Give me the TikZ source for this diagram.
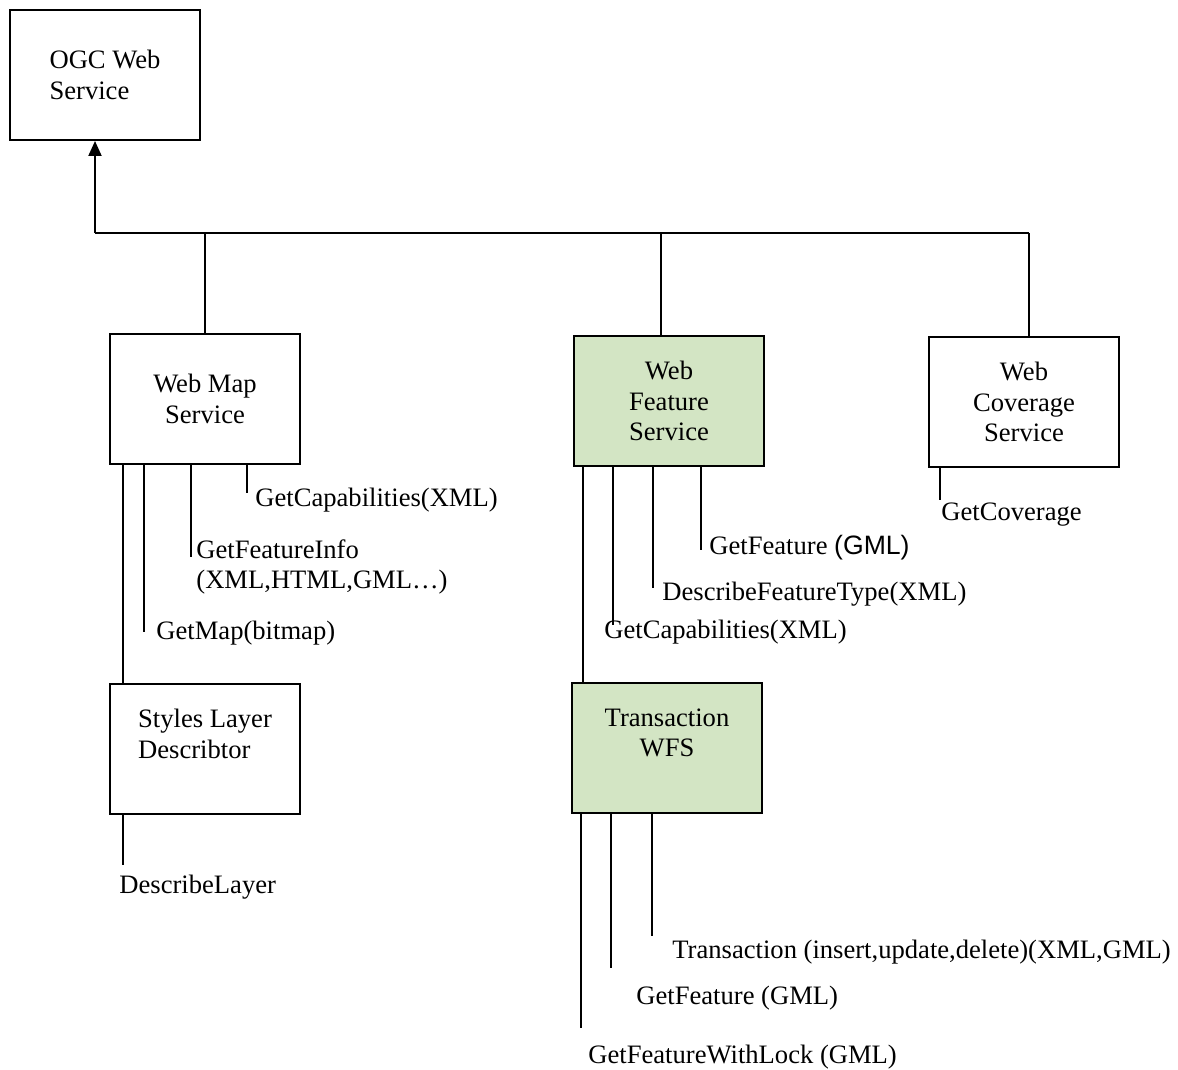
\documentclass[tikz,border=0pt]{standalone}
\usepackage{fontspec}
\setmainfont{Liberation Serif}
\newfontfamily\arialfont{Liberation Sans}
\usetikzlibrary{arrows.meta}
\definecolor{wfsgreen}{RGB}{211,229,196}

\begin{document}
\begin{tikzpicture}[x=0.5pt, y=-0.5pt,
    font=\fontsize{13.3}{15.25}\selectfont,
    box/.style={draw, line width=1pt, minimum width=95pt, minimum height=65pt, inner sep=2pt},
    green box/.style={box, fill=wfsgreen},
    op/.style={anchor=west, inner sep=0pt, align=left},
    wire/.style={line width=1pt},
    thin wire/.style={line width=0.7pt}]
    \useasboundingbox (0,0) rectangle (1178,1070);

    \path (105, 75) node [box, align=left] (ogc) {OGC Web\\Service};
    \path (205, 399) node [box, align=center] (wms) {Web Map\\Service};
    \path (669, 401) node [green box, align=center] (wfs) {Web\\Feature\\Service};
    \path (1024, 402) node [box, align=center] (wcs) {Web\\Coverage\\Service};
    \path (205, 749) node [box, align=left] (sld) {Styles Layer\\Describtor\\\mbox{}};
    \path (667, 748) node [green box, align=center] (wfst) {Transaction\\WFS\\\mbox{}};

    % the common bus up to OGC
    \coordinate (bus) at (95, 233);
    \coordinate (busend) at (1029, 233);
    \draw [wire, -{Triangle[width=6.5pt,length=7.5pt]}] (bus) -- (bus |- ogc.south);
    \draw [wire] (bus) -- (busend);
    \draw [wire] (bus -| wms.north) -- (wms.north);
    \draw [wire] ([xshift=-4pt]wfs.north |- bus) -- ([xshift=-4pt]wfs.north);
    \draw [wire] (busend) -- (busend |- wcs.north);

    % WMS requests
    \path (255, 500) node [op] (wmscap) {GetCapabilities(XML)};
    \path (196, 567) node [op] (wmsinfo) {GetFeatureInfo\\(XML,HTML,GML…)};
    \path (156, 633) node [op] (wmsmap) {GetMap(bitmap)};
    \coordinate (wmscapend) at (247, 493);
    \coordinate (wmsinfoend) at (191, 557);
    \coordinate (wmsmapend) at (144, 632);
    \draw [wire] (wms.south -| wmscapend) -- (wmscapend);
    \draw [wire] (wms.south -| wmsinfoend) -- (wmsinfoend);
    \draw [wire] (wms.south -| wmsmapend) -- (wmsmapend);
    \draw [wire] ([xshift=-41pt]wms.south) -- ([xshift=-41pt]wms.south |- sld.north);

    \path (119, 887) node [op] (sldlayer) {DescribeLayer};
    \coordinate (sldend) at (123, 865);
    \draw [wire] (sld.south -| sldend) -- (sldend);

    % WFS requests
    \path (709, 548) node [op] (wfsget) {GetFeature {\arialfont (GML)}};
    \path (662, 594) node [op] (wfsdesc) {DescribeFeatureType(XML)};
    \path (604, 632) node [op] (wfscap) {GetCapabilities(XML)};
    \coordinate (wfsgetend) at (701, 550);
    \coordinate (wfsdescend) at (653, 588);
    \coordinate (wfscapend) at (613, 625);
    \draw [wire] (wfs.south -| wfsgetend) -- (wfsgetend);
    \draw [wire] (wfs.south -| wfsdescend) -- (wfsdescend);
    \draw [wire] (wfs.south -| wfscapend) -- (wfscapend);
    \draw [wire] ([xshift=-43pt]wfs.south) -- ([xshift=-43pt]wfs.south |- wfst.north);

    % WCS
    \path (941, 515) node [op] (wcscov) {GetCoverage};
    \coordinate (wcscovend) at (940, 500);
    \draw [wire] (wcs.south -| wcscovend) -- (wcscovend);

    % transaction WFS
    \path (672, 952) node [op] (wfsttrans) {Transaction (insert,update,delete)(XML,GML)};
    \path (636, 998) node [op] (wfstget) {GetFeature (GML)};
    \path (588, 1057) node [op] (wfstlock) {GetFeatureWithLock (GML)};
    \coordinate (wfsttransend) at (652, 936);
    \coordinate (wfstgetend) at (611, 968);
    \coordinate (wfstlockend) at (581, 1028);
    \draw [thin wire] (wfst.south -| wfsttransend) -- (wfsttransend);
    \draw [thin wire] (wfst.south -| wfstgetend) -- (wfstgetend);
    \draw [thin wire] (wfst.south -| wfstlockend) -- (wfstlockend);
\end{tikzpicture}
\end{document}
